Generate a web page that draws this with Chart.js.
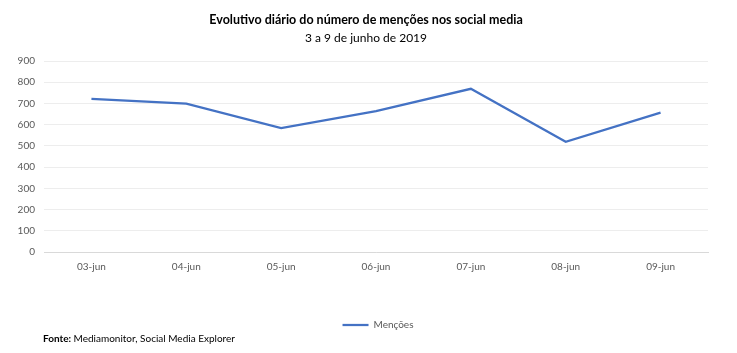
<!DOCTYPE html>
<html><head><meta charset="utf-8">
<script src="https://cdn.jsdelivr.net/npm/chart.js@4"></script>
<style>html,body{margin:0;padding:0;background:#fff}#wrap{width:737px;height:353px;position:relative}</style>
</head><body><div id="wrap"><canvas id="c" width="737" height="353"></canvas></div>
<script>
const categories = ["03-jun","04-jun","05-jun","06-jun","07-jun","08-jun","09-jun"];
const mencoes = [721, 699, 584, 664, 769, 519, 657];
const seriesName = "Menções";
const titleText = "Evolutivo diário do número de menções nos social media";
const subtitleText = "3 a 9 de junho de 2019";
const FONT = "Lato, 'Open Sans', sans-serif";

const textPlugin = {
  id: 'texts',
  afterLayout(chart) {
    if (chart.legend) { chart.legend.left += 24; chart.legend.right += 24; }
  },
  afterDraw(chart) {
    const ctx = chart.ctx;
    ctx.save();
    ctx.fillStyle = '#000';
    ctx.textAlign = 'center';
    ctx.textBaseline = 'middle';
    ctx.font = "bold 12.5px " + FONT;
    ctx.fillText(titleText, 366, 20);
    ctx.font = "12px " + FONT;
    ctx.fillText(subtitleText, 366, 38);
    ctx.textAlign = 'left';
    ctx.font = "bold 10px " + FONT;
    const b = "Fonte:";
    ctx.fillText(b, 43, 339);
    const w = ctx.measureText(b + " ").width;
    ctx.font = "10px " + FONT;
    ctx.fillText("Mediamonitor, Social Media Explorer", 43 + w, 339);
    ctx.restore();
  }
};

new Chart(document.getElementById('c'), {
  type: 'line',
  data: {
    labels: categories,
    datasets: [{
      label: seriesName,
      data: mencoes,
      borderColor: '#4472C4',
      backgroundColor: '#4472C4',
      borderWidth: 2.25,
      pointRadius: 0,
      tension: 0,
      fill: false
    }]
  },
  options: {
    responsive: false,
    animation: false,
    devicePixelRatio: 1,
    layout: { padding: { top: 61, right: 29, bottom: 13, left: 0 } },
    plugins: {
      title: { display: false },
      tooltip: { enabled: false },
      legend: {
        position: 'bottom',
        labels: {
          usePointStyle: true,
          pointStyle: 'line',
          pointStyleWidth: 26,
          color: '#595959',
          font: { family: FONT, size: 10 },
          padding: 10
        }
      }
    },
    scales: {
      x: {
        offset: true,
        grid: { display: false, drawTicks: false },
        border: { color: '#d9d9d9', width: 1 },
        ticks: { color: '#595959', font: { family: FONT, size: 10 }, padding: 9, maxRotation: 0 },
        afterFit(s) { s.height = 58; }
      },
      y: {
        min: 0, max: 900,
        ticks: { stepSize: 100, color: '#595959', font: { family: FONT, size: 10 }, padding: 9 },
        grid: { color: '#ededed', drawTicks: false },
        border: { display: false },
        afterFit(s) { s.width = 44; }
      }
    }
  },
  plugins: [textPlugin]
});
</script></body></html>
